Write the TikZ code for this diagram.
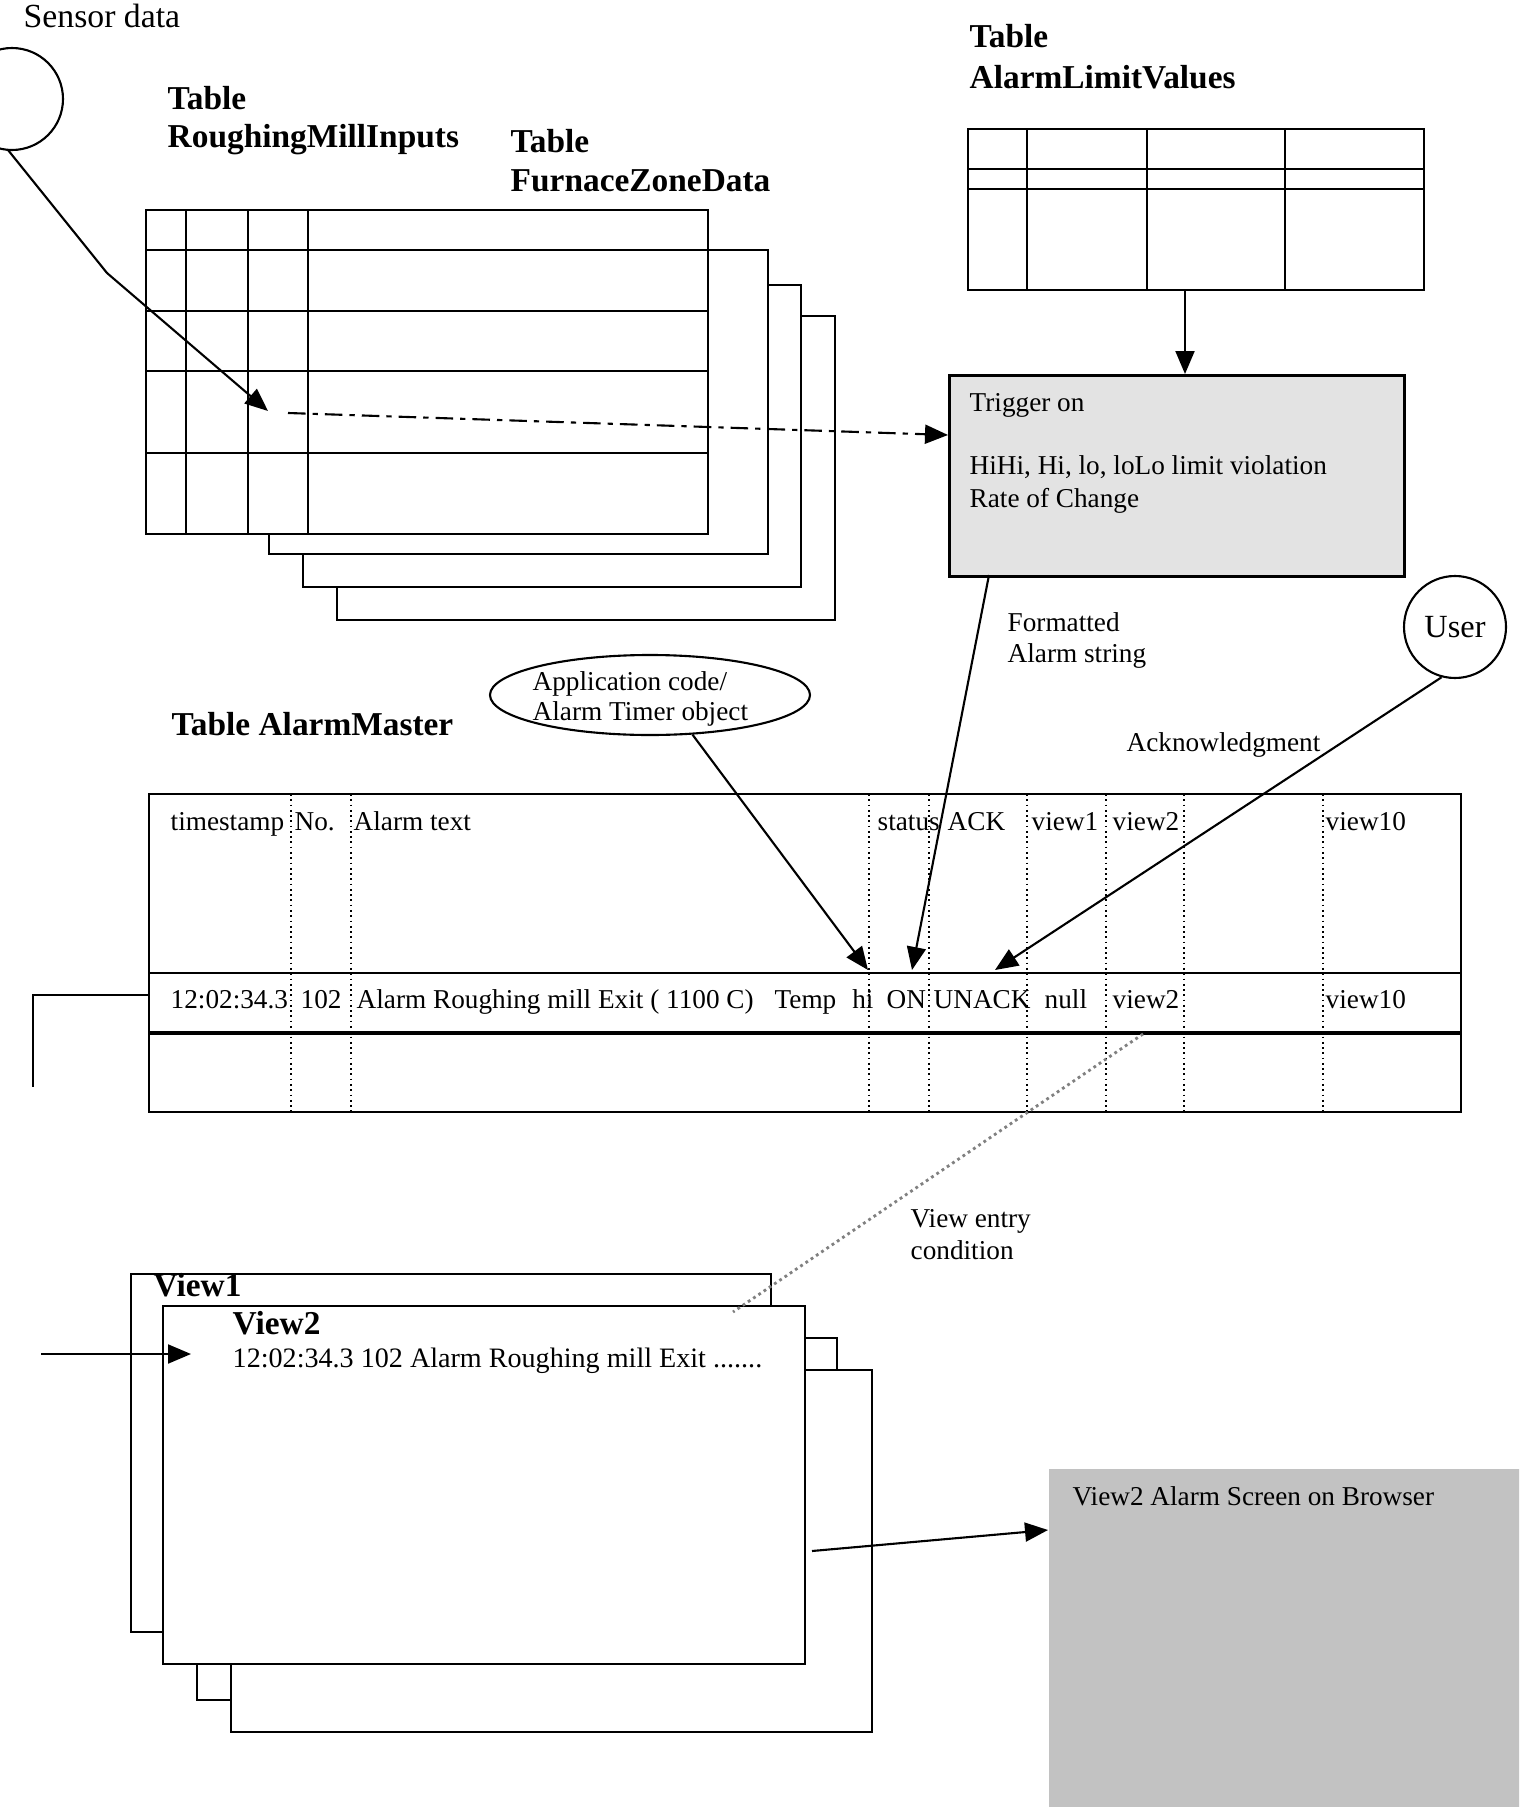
\documentclass[tikz,border=0pt]{standalone}
\usepackage{fontspec}
\setmainfont{Liberation Serif}
\usetikzlibrary{arrows.meta,shapes.geometric,positioning}

\tikzset{
  tbl/.style={line width=0.8pt},
  sheet/.style={draw, fill=white, line width=0.8pt},
  col/.style={densely dotted, line width=0.5pt},
  body/.style={font=\fontsize{7.75}{9}\selectfont, inner sep=0pt, anchor=base west},
  ttl/.style={font=\fontsize{9.5}{11}\selectfont\bfseries, inner sep=0pt, anchor=base west},
  arr/.style={-{Triangle[length=2.3mm,width=1.9mm]}, line width=0.6pt},
}

\begin{document}
\begin{tikzpicture}[x=0.1mm, y=-0.1mm]
    \path[use as bounding box] (0,0) rectangle (1519,1820);
    \clip (0,0) rectangle (1519,1820);

    % sensor input
    \draw[line width=0.6pt] (12,99) circle (51);
    \node[body, font=\fontsize{9.6}{11}\selectfont] (sensor) at (23,28) {Sensor data};

    % input tables
    \foreach \xa/\ya/\xb/\yb in {337/316/835/620, 303/285/801/587, 269/250/768/554}
      \draw[sheet] (\xa,\ya) rectangle (\xb,\yb);
    \draw[sheet] (146,210) rectangle (708,534);
    \foreach \y in {250,311,371,453} \draw[tbl] (146,\y) -- (708,\y);
    \foreach \x in {186,248,308} \draw[tbl] (\x,210) -- (\x,534);
    \node[ttl] (rmitable) at (167,110) {Table};
    \node[ttl] (rminame) at (167,148) {RoughingMillInputs};
    \node[ttl] (fzdtable) at (510,152) {Table};
    \node[ttl] (fzdname) at (510,192) {FurnaceZoneData};

    \coordinate (sensorfoot) at (8,150);
    \coordinate (sensorbend) at (107,273);
    \coordinate (sensortip) at (268,411);
    \draw[arr] (sensorfoot) -- (sensorbend) -- (sensortip);

    % limit values
    \node[ttl] (alvtable) at (969,48) {Table};
    \node[ttl] (alvname) at (969,89) {AlarmLimitValues};
    \draw[tbl] (968,129) rectangle (1424,290);
    \foreach \y in {169,189} \draw[tbl] (968,\y) -- (1424,\y);
    \foreach \x in {1027,1147,1285} \draw[tbl] (\x,129) -- (\x,290);
    \coordinate (alvfoot) at (1185,290);

    \node[draw, line width=0.8pt, fill=gray!22, minimum width=45.5mm, minimum height=20.1mm,
      inner sep=0pt, anchor=north west] (trigger) at (948,374) {};
    \node[body] (trigon) at (969,411) {Trigger on};
    \node[body] (trighi) at (969,474) {HiHi, Hi, lo, loLo limit violation};
    \node[body] (trigrate) at (969,507) {Rate of Change};
    \draw[arr] (alvfoot) -- (alvfoot |- trigger.north);

    \coordinate (dashstart) at (288,413);
    \coordinate (dashend) at (948,435);
    \draw[arr, dash pattern=on 5pt off 2pt on 1.5pt off 2pt] (dashstart) -- (dashend);

    % alarm master
    \node[ttl] (amtitle) at (171,735) {Table AlarmMaster};
    \draw[tbl] (149,794) rectangle (1461,1112);
    \draw[tbl] (149,973) -- (1461,973);
    \draw[line width=1.1pt] (149,1033) -- (1461,1033);
    \foreach \x in {291,351,869,929,1027,1106,1184,1323} \draw[col] (\x,794) -- (\x,1112);

    \node[body] (hdts) at (170,830) {timestamp};
    \node[body] (hdno) at (294,830) {No.};
    \node[body] (hdtext) at (353,830) {Alarm text};
    \node[body] (hdstatus) at (877,830) {status};
    \node[body] (hdack) at (947,830) {ACK};
    \node[body] (hdvone) at (1031,830) {view1};
    \node[body] (hdvtwo) at (1112,830) {view2};
    \node[body] (hdvten) at (1325,830) {view10};

    \node[body] (rowts) at (170,1008) {12:02:34.3};
    \node[body] (rowno) at (300,1008) {102};
    \node[body] (rowtext) at (356,1008) {Alarm Roughing mill Exit ( 1100 C)\hspace{2.1mm}Temp\hspace{1.6mm}hi};
    \node[body] (rowon) at (886,1008) {ON};
    \node[body] (rowunack) at (933,1008) {UNACK};
    \node[body] (rownull) at (1044,1008) {null};
    \node[body] (rowvtwo) at (1112,1008) {view2};
    \node[body] (rowvten) at (1325,1008) {view10};

    % writers of the alarm row
    \node[draw, ellipse, line width=0.6pt, minimum width=32mm, minimum height=8mm, inner sep=0pt] (appcode) at (650,695) {};
    \node[body] (appone) at (532,690) {Application code/};
    \node[body] (apptwo) at (532,720) {Alarm Timer object};
    \coordinate (apptip) at (868,970);
    \draw[arr] (appcode.-43) -- (apptip);

    \coordinate (fmtstart) at (989,575);
    \coordinate (ontip) at (912,970);
    \draw[arr] (fmtstart) -- (ontip);
    \node[body] (fmtone) at (1007,631) {Formatted};
    \node[body] (fmttwo) at (1007,662) {Alarm string};

    \node[draw, circle, line width=0.6pt, minimum size=10.2mm, inner sep=0pt,
      font=\fontsize{9.2}{11}\selectfont] (user) at (1455,627) {User};
    \coordinate (acktip) at (995,970);
    \draw[arr] (user.255) -- (acktip);
    \node[body] (ack) at (1126,751) {Acknowledgment};

    \coordinate (rowleft) at (149,995);
    \coordinate (loopcorner) at (33,995);
    \coordinate (loopend) at (33,1087);
    \draw[line width=0.6pt] (rowleft) -- (loopcorner) -- (loopend);

    % views
    \draw[sheet] (197,1338) rectangle (837,1700);
    \draw[sheet] (231,1370) rectangle (872,1732);
    \draw[sheet] (131,1274) rectangle (771,1632);
    \draw[sheet] (163,1306) rectangle (805,1664);
    \node[ttl] (viewone) at (153,1296) {View1};
    \node[ttl] (viewtwo) at (232,1334) {View2};
    \node[body, font=\fontsize{8}{9}\selectfont] (viewrow) at (232,1367) {12:02:34.3 102 Alarm Roughing mill Exit .......};

    \coordinate (entrystart) at (1143,1034);
    \coordinate (entryend) at (733,1312);
    \draw[gray, densely dotted, line width=0.8pt] (entrystart) -- (entryend);
    \node[body] (entryone) at (910,1227) {View entry};
    \node[body] (entrytwo) at (910,1259) {condition};

    \coordinate (feedstart) at (41,1354);
    \coordinate (feedtip) at (191,1354);
    \draw[arr] (feedstart) -- (feedtip);

    % browser
    \node[fill=gray!48, minimum width=47.1mm, minimum height=33.8mm, inner sep=0pt,
      anchor=north west] (browser) at (1048,1468) {};
    \node[body] (browsertext) at (1072,1505) {View2 Alarm Screen on Browser};
    \coordinate (viewout) at (812,1551);
    \coordinate (browserin) at (1048,1530);
    \draw[arr] (viewout) -- (browserin);
\end{tikzpicture}
\end{document}
